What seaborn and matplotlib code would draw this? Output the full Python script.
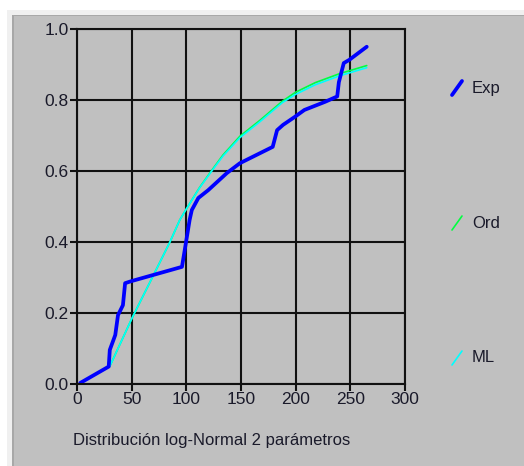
import numpy as np
import matplotlib
matplotlib.use("Agg")
import matplotlib.pyplot as plt
from matplotlib.lines import Line2D
from matplotlib.patches import Rectangle
import pandas as pd
import seaborn as sns

sns.set_theme(style="white")
plt.rcParams['font.family'] = ['Liberation Sans', 'DejaVu Sans']

# experimental (empirical) distribution
exp_x = [3, 29, 30, 35, 37.5, 42, 44, 50, 96, 99, 103, 105, 111, 120, 137, 149, 179, 183,
         188.5, 199, 208, 227, 238, 239.5, 244, 249, 265]
exp_y = [0.003, 0.049, 0.096, 0.138, 0.194, 0.222, 0.284, 0.29, 0.33, 0.386, 0.462, 0.49,
         0.524, 0.546, 0.594, 0.622, 0.668, 0.715, 0.73, 0.752, 0.772, 0.795, 0.81, 0.85,
         0.904, 0.913, 0.95]

# fitted curves
fit_x = [3, 30, 51, 70, 85, 94, 100.6, 112, 123.5, 133.5, 149, 167, 188, 200, 218, 240, 265]
ord_y = [0.003, 0.05, 0.19, 0.307, 0.40, 0.462, 0.496, 0.553, 0.603, 0.645, 0.698, 0.742,
         0.797, 0.822, 0.849, 0.874, 0.897]
ml_y = [0.003, 0.05, 0.19, 0.307, 0.40, 0.462, 0.496, 0.552, 0.601, 0.642, 0.694, 0.738,
        0.793, 0.816, 0.843, 0.868, 0.891]

series = ["Exp", "Ord", "ML"]
colors = {"Exp": "#0000FF", "Ord": "#00FF40", "ML": "#00FFFF"}
widths = {"Exp": 2.7, "Ord": 1.2, "ML": 1.2}

df_exp = pd.DataFrame({"x": exp_x, "y": exp_y, "serie": "Exp"})
df_ord = pd.DataFrame({"x": fit_x, "y": ord_y, "serie": "Ord"})
df_ml = pd.DataFrame({"x": fit_x, "y": ml_y, "serie": "ML"})

W, H = 524, 466
fig = plt.figure(figsize=(W / 100, H / 100), dpi=100)
fig.patch.set_facecolor("white")

# window-like panel
fig.patches.append(Rectangle((7 / W, 0), 1, 1 - 10 / H, transform=fig.transFigure,
                             facecolor="#F0F0F0", edgecolor="none", zorder=-3))
fig.patches.append(Rectangle((12 / W, 0), 1, 1 - 15 / H, transform=fig.transFigure,
                             facecolor="#A8A8A8", edgecolor="none", zorder=-2))
fig.patches.append(Rectangle((13.5 / W, 0), 1, 1 - 16 / H, transform=fig.transFigure,
                             facecolor="#C0C0C0", edgecolor="none", zorder=-1))

left, right, top, bottom = 77, 405, 29, 384
ax = fig.add_axes([left / W, 1 - bottom / H, (right - left) / W, (bottom - top) / H])
ax.set_facecolor("#C0C0C0")

# Ord first, ML over it, Exp on top
sns.lineplot(data=df_ord, x="x", y="y", ax=ax, color=colors["Ord"], lw=widths["Ord"],
             sort=False, estimator=None, legend=False)
sns.lineplot(data=df_ml, x="x", y="y", ax=ax, color=colors["ML"], lw=widths["ML"],
             sort=False, estimator=None, legend=False)
sns.lineplot(data=df_exp, x="x", y="y", ax=ax, color=colors["Exp"], lw=widths["Exp"],
             sort=False, estimator=None, legend=False)

ax.set_xlim(0, 300)
ax.set_ylim(0, 1)
ax.set_xticks(np.arange(0, 301, 50))
ax.set_yticks(np.arange(0, 1.01, 0.2))
ax.set_yticklabels(["{:.1f}".format(v) for v in np.arange(0, 1.01, 0.2)])
ax.grid(True, color="#111111", lw=1.5)
ax.set_axisbelow(True)
for s in ax.spines.values():
    s.set_color("#111111")
    s.set_linewidth(1.5)
ax.tick_params(direction="out", length=5, width=1.5, color="#111111",
               labelsize=12.5, labelcolor="#1a1a2a", pad=1, left=True, bottom=True)
ax.set_xlabel("")
ax.set_ylabel("")

fig.text(73 / W, 1 - 441 / H, "Distribución log-Normal 2 parámetros", fontsize=12,
         color="#1a1a2a", ha="left", va="center")

# legend entries on the right
leg_y = {"Exp": 88, "Ord": 223, "ML": 358}
for name in series:
    yc = leg_y[name]
    fig.add_artist(Line2D([452 / W, 462 / W], [1 - (yc + 7) / H, 1 - (yc - 7) / H],
                          transform=fig.transFigure, color=colors[name],
                          lw=widths[name] if name == "Exp" else 1.2))
    fig.text(472 / W, 1 - yc / H, name, fontsize=12, color="#1a1a2a",
             ha="left", va="center")

fig.savefig("out.png", dpi=100)
